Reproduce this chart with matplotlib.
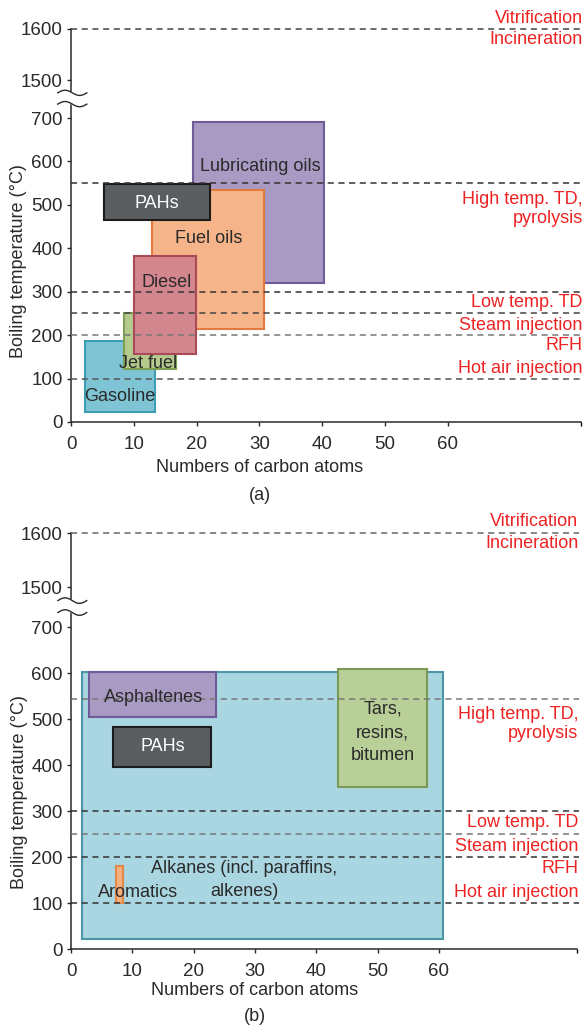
import numpy as np
import matplotlib
matplotlib.use('Agg')
import matplotlib.pyplot as plt
from matplotlib.patches import Rectangle
from matplotlib.transforms import blended_transform_factory

plt.rcParams['font.family'] = ['Liberation Sans', 'DejaVu Sans']

# (a) petroleum fractions: carbon number range and boiling range (°C)
a_names = ['Lubricating oils', 'Fuel oils', 'Gasoline', 'Jet fuel', 'Diesel', 'PAHs']
a_c_min = [19.5, 12.9, 2.3, 8.5, 10.1, 5.3]
a_c_max = [40.2, 30.7, 13.4, 16.7, 19.9, 22.2]
a_t_min = [321, 215, 23, 121, 156, 465]
a_t_max = [690, 534, 186, 250, 383, 548]

# (b) compound classes
b_names = ['Alkanes (incl. paraffins,\nalkenes)', 'Asphaltenes', 'PAHs',
           'Tars,\nresins,\nbitumen', 'Aromatics']
b_c_min = [1.8, 2.9, 6.8, 43.6, 7.3]
b_c_max = [60.6, 23.6, 22.9, 58.1, 8.4]
b_t_min = [22, 505, 397, 353, 100]
b_t_max = [603, 603, 482, 610, 181]

# remediation temperature thresholds (°C)
a_thresholds = [1600, 550, 300, 250, 200, 100]
b_thresholds = [1600, 545, 300, 250, 200, 100]
methods = ['Vitrification', 'Incineration', 'High temp. TD,\npyrolysis',
           'Low temp. TD', 'Steam injection', 'RFH', 'Hot air injection']
method_temps = [1621, 1580, 490, 275, 222, 176, 123]

y_ticks = [0, 100, 200, 300, 400, 500, 600, 700, 1500, 1600]

RED = '#ee2222'
DARK = '#2a2a2a'


def ymap(t):
    """Broken axis: 0-700 linear, 1500-1600 shifted above the break."""
    t = np.asarray(t, dtype=float)
    return np.where(t <= 700, t, 787 + (t - 1500) * 1.18)


def draw_break(ax, yb):
    xs = np.linspace(-0.026, 0.031, 60)
    tr = blended_transform_factory(ax.transAxes, ax.transData)
    wave = 6 * np.sin(2 * np.pi * (xs + 0.026) / 0.057)
    lo = yb - 13 + wave
    hi = yb + 13 + wave
    ax.fill_between(xs, lo, hi, color='white', transform=tr, zorder=6, clip_on=False)
    ax.plot(xs, lo, color=DARK, lw=1.0, transform=tr, zorder=7, clip_on=False)
    ax.plot(xs, hi, color=DARK, lw=1.0, transform=tr, zorder=7, clip_on=False)


def setup(ax, xmax, thresholds, line_colors, xlab_y, panel_y, panel):
    ax.set_xlim(0, xmax)
    ax.set_ylim(0, float(ymap(1600)))
    for s in ['top', 'right']:
        ax.spines[s].set_visible(False)
    for s in ['left', 'bottom']:
        ax.spines[s].set_color(DARK)
        ax.spines[s].set_linewidth(1.1)
    ax.set_yticks(ymap(y_ticks))
    ax.set_yticklabels([str(t) for t in y_ticks])
    ax.set_xticks(range(0, 61, 10))
    ax.set_xticks([xmax], minor=True)
    ax.tick_params(axis='both', colors=DARK, labelsize=13.5, length=3, width=1)
    ax.tick_params(axis='x', which='both', pad=7, length=3, width=1)
    ax.tick_params(axis='y', pad=3)

    for t, c in zip(thresholds, line_colors):
        ax.axhline(float(ymap(t)), xmin=0, xmax=1.004, color=c, lw=1.1,
                   ls=(0, (4, 3)), zorder=4, clip_on=False)

    tr = blended_transform_factory(ax.transAxes, ax.transData)
    for m, t in zip(methods, method_temps):
        ax.text(1.003, float(ymap(t)), m, transform=tr, ha='right', va='center',
                color=RED, fontsize=13, linespacing=1.12, clip_on=False)

    draw_break(ax, 745)

    trx = blended_transform_factory(ax.transData, ax.transAxes)
    ax.text(30, xlab_y, 'Numbers of carbon atoms', transform=trx,
            ha='center', va='center', fontsize=13, color=DARK)
    ax.text(30, panel_y, panel, transform=trx,
            ha='center', va='center', fontsize=13, color=DARK)


def box_label(ax, x, y, name, col, step):
    # each line as its own text so neighbouring labels do not share a box
    lines = name.split('\n')
    n = len(lines)
    for k, line in enumerate(lines):
        yy = y + ((n - 1) / 2 - k) * step
        ax.text(x, yy, line, ha='center', va='center', fontsize=13,
                color=col, zorder=8)


fig = plt.figure(figsize=(5.84, 10.28), dpi=100)
ax1 = fig.add_axes([0.1216, 0.5895, 0.8733, 0.3823])
ax2 = fig.add_axes([0.1216, 0.0768, 0.8664, 0.4047])

# ---- panel (a)
a_face = ['#a89ac2', '#f6b48a', '#7ec4d4', '#b5cb8e', '#d3868e', '#5b5e61']
a_edge = ['#6d5c97', '#e27a3c', '#3d9db2', '#7f9f52', '#a84a58', '#1c1c1c']
a_text_pos = [(30.2, 588), (21.9, 423), (7.7, 58), (12.3, 135), (15.3, 321), (13.7, 502)]
for i, name in enumerate(a_names):
    ax1.add_patch(Rectangle((a_c_min[i], a_t_min[i]), a_c_max[i] - a_c_min[i],
                            a_t_max[i] - a_t_min[i], facecolor=a_face[i],
                            edgecolor=a_edge[i], lw=1.5, zorder=2 + i * 0.1))
for i, name in enumerate(a_names):
    col = 'white' if name == 'PAHs' else DARK
    box_label(ax1, a_text_pos[i][0], a_text_pos[i][1], name, col, 50)

setup(ax1, 81.2, a_thresholds,
      ['#444444', '#333333', '#333333', '#444444', '#777777', '#555555'],
      -0.117, -0.186, '(a)')
ax1.set_ylabel('Boiling temperature (°C)', fontsize=13, color=DARK)
ax1.yaxis.set_label_coords(-0.086, 0.41)

# ---- panel (b)
b_face = ['#a9d6e1', '#a89ac2', '#5b5e61', '#b9cf98', '#f5b07e']
b_edge = ['#4b97a7', '#6d5c97', '#1c1c1c', '#7a9a55', '#e2884a']
b_text_pos = [(28.2, 150), (13.4, 547), (14.9, 440), (50.8, 471), (11.0, 122)]
for i, name in enumerate(b_names):
    ax2.add_patch(Rectangle((b_c_min[i], b_t_min[i]), b_c_max[i] - b_c_min[i],
                            b_t_max[i] - b_t_min[i], facecolor=b_face[i],
                            edgecolor=b_edge[i], lw=1.5, zorder=2 + i * 0.1))
for i, name in enumerate(b_names):
    col = 'white' if name == 'PAHs' else DARK
    box_label(ax2, b_text_pos[i][0], b_text_pos[i][1], name, col, 51)

setup(ax2, 82.5, b_thresholds,
      ['#666666', '#777777', '#333333', '#777777', '#333333', '#333333'],
      -0.099, -0.163, '(b)')
ax2.set_ylabel('Boiling temperature (°C)', fontsize=13, color=DARK)
ax2.yaxis.set_label_coords(-0.086, 0.377)

fig.savefig('out.png', dpi=100)
